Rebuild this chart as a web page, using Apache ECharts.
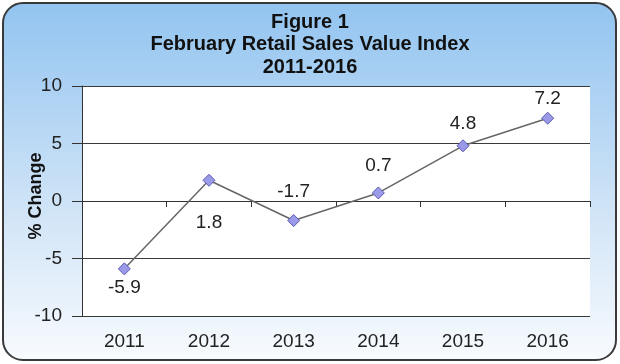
<!DOCTYPE html>
<html><head><meta charset="utf-8">
<script src="https://cdn.jsdelivr.net/npm/echarts@6/dist/echarts.min.js"></script>
<style>html,body{margin:0;padding:0;background:#fff}#c{width:620px;height:364px}</style>
</head><body><div id="c"></div>
<script>
const titleLines = ['Figure 1', 'February Retail Sales Value Index', '2011-2016'];
const years = ['2011', '2012', '2013', '2014', '2015', '2016'];
const pctChange = [-5.9, 1.8, -1.7, 0.7, 4.8, 7.2];
const yTicks = { min: -10, max: 10, interval: 5 };
const yName = '% Change';

// label placement (style, not data)
const labelPlace = [['bottom', 3], ['bottom', 26], ['top', 13], ['top', 11], ['top', 6], ['top', 3]];

const chart = echarts.init(document.getElementById('c'), null, { renderer: 'canvas' });
const font = 'Liberation Sans, Arial, sans-serif';
chart.setOption({
  animation: false,
  backgroundColor: 'transparent',
  graphic: [{
    type: 'rect', z: -10, silent: true,
    shape: { x: 3, y: 3, width: 613, height: 357, r: 20 },
    style: {
      fill: new echarts.graphic.LinearGradient(0, 0, 0, 1, [
        { offset: 0, color: '#92c4f0' },
        { offset: 0.6, color: '#d2e5f7' },
        { offset: 1, color: '#f8fbfe' }
      ]),
      stroke: '#3a3a3a', lineWidth: 2
    }
  }],
  title: {
    text: titleLines.join('\n'), left: 'center', top: 6,
    textStyle: { fontFamily: font, fontWeight: 'bold', fontSize: 20, lineHeight: 22.5, color: '#111' }
  },
  grid: { left: 82, right: 30, top: 86, bottom: 48, show: true, backgroundColor: '#fff', borderWidth: 0 },
  xAxis: [{
    type: 'category', data: years, boundaryGap: true,
    axisLine: { onZero: true, lineStyle: { color: '#333', width: 1 } },
    axisTick: { show: true, length: 6, lineStyle: { color: '#333' } },
    axisLabel: { show: false }, splitLine: { show: false }
  }, {
    type: 'category', data: years, boundaryGap: true, position: 'bottom',
    axisLine: { show: false, onZero: false }, axisTick: { show: false },
    axisLabel: { fontFamily: font, fontSize: 19, color: '#222', margin: 16 }
  }],
  yAxis: {
    type: 'value', min: yTicks.min, max: yTicks.max, interval: yTicks.interval,
    name: yName, nameLocation: 'middle', nameGap: 37, nameRotate: 90, nameMoveOverlap: false,
    nameTextStyle: { fontFamily: font, fontWeight: 'bold', fontSize: 18, color: '#111', padding: [0, 0, 0, 10] },
    axisLine: { show: true, lineStyle: { color: '#333' } },
    axisTick: { show: true, length: 10, lineStyle: { color: '#333' } },
    axisLabel: { fontFamily: font, fontSize: 19, color: '#222', margin: 20 },
    splitLine: { show: true, lineStyle: { color: '#3a3a3a', width: 1 } }
  },
  series: [{
    type: 'line', xAxisIndex: 0,
    data: pctChange.map((v, i) => ({ value: v, label: { position: labelPlace[i][0], distance: labelPlace[i][1] } })),
    symbol: 'diamond', symbolSize: 12,
    lineStyle: { color: '#666', width: 1.5 },
    itemStyle: { color: '#9a9ae8', borderColor: '#5a5ab0', borderWidth: 1 },
    label: { show: true, fontFamily: font, fontSize: 19, color: '#222' }
  }]
});
</script></body></html>
